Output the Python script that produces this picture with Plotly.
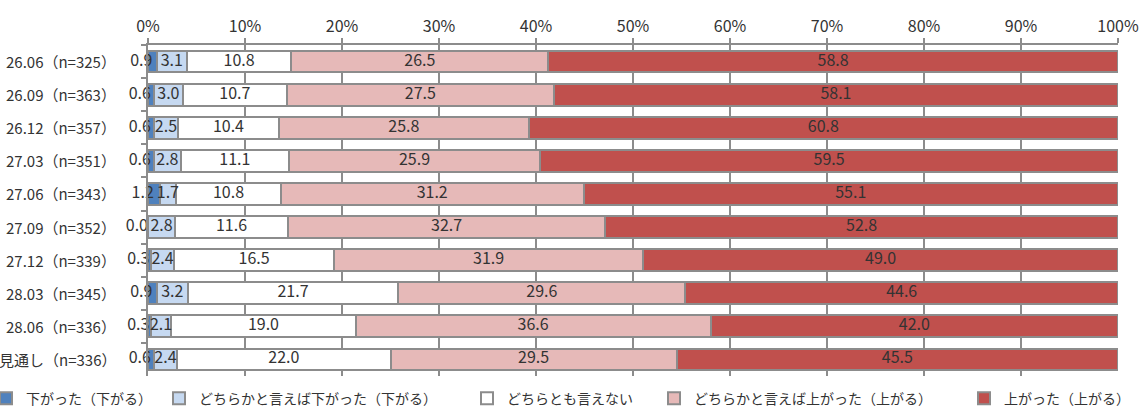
import plotly.graph_objects as go
import numpy as np

categories = ["26.06（n=325）", "26.09（n=363）", "26.12（n=357）", "27.03（n=351）",
              "27.06（n=343）", "27.09（n=352）", "27.12（n=339）", "28.03（n=345）",
              "28.06（n=336）", "見通し（n=336）"]
series_names = ["下がった（下がる）", "どちらかと言えば下がった（下がる）", "どちらとも言えない",
                "どちらかと言えば上がった（上がる）", "上がった（上がる）"]
down = [0.9, 0.6, 0.6, 0.6, 1.2, 0.0, 0.3, 0.9, 0.3, 0.6]
rather_down = [3.1, 3.0, 2.5, 2.8, 1.7, 2.8, 2.4, 3.2, 2.1, 2.4]
neutral = [10.8, 10.7, 10.4, 11.1, 10.8, 11.6, 16.5, 21.7, 19.0, 22.0]
rather_up = [26.5, 27.5, 25.8, 25.9, 31.2, 32.7, 31.9, 29.6, 36.6, 29.5]
up = [58.8, 58.1, 60.8, 59.5, 55.1, 52.8, 49.0, 44.6, 42.0, 45.5]

series = [down, rather_down, neutral, rather_up, up]
colors = ["#4F81BD", "#C6D9F1", "#FFFFFF", "#E6B9B8", "#C0504D"]
label_pos = ["middle left", "middle center", "middle center", "middle center", "middle center"]
legend_x_px = [-14, 159, 467, 654, 964]   # legend item placement (pixels from left of page)
FONT = "Noto Sans CJK JP"
TXT = "#333333"
GRAY = "#8C8C8C"
L, R, T, B = 148, 28, 45, 34
W, H = 1146, 410
PW = W - L - R

fig = go.Figure()
for i, (name, vals, col) in enumerate(zip(series_names, series, colors)):
    fig.add_trace(go.Bar(
        y=categories, x=vals, name=name, orientation="h",
        marker=dict(color=col, line=dict(color=GRAY, width=2)),
        hoverinfo="skip", legend="legend" if i == 0 else f"legend{i+1}",
    ))

# data labels at normalized segment midpoints
arr = np.array(series, dtype=float)
tot = arr.sum(axis=0)
norm = arr / tot * 100
cum = np.cumsum(norm, axis=0)
for i, vals in enumerate(series):
    mids = cum[i] - norm[i] / 2
    fig.add_trace(go.Scatter(
        x=mids, y=categories, mode="text",
        text=[f"{v:.1f}" for v in vals], textposition=label_pos[i],
        textfont=dict(family=FONT, size=16, color=TXT),
        showlegend=False, hoverinfo="skip", cliponaxis=False,
    ))

# category labels
for c in categories:
    fig.add_annotation(x=(118 - L) / PW, xref="paper", y=c, yref="y", text=c,
                       showarrow=False, xanchor="right", yanchor="middle",
                       font=dict(family=FONT, size=15, color=TXT))

legends = {}
for i, lx in enumerate(legend_x_px):
    key = "legend" if i == 0 else f"legend{i+1}"
    legends[key] = dict(orientation="h", x=(lx - L) / PW, xref="paper", y=-0.02,
                        yanchor="top", xanchor="left",
                        font=dict(size=14, family=FONT, color=TXT),
                        itemwidth=30, bgcolor="rgba(0,0,0,0)")

fig.update_layout(
    barmode="stack", barnorm="percent", bargap=0.34,
    width=W, height=H,
    margin=dict(l=L, r=R, t=T, b=B, autoexpand=False),
    paper_bgcolor="white", plot_bgcolor="white",
    font=dict(family=FONT, size=15, color=TXT),
    showlegend=True, **legends,
)
fig.update_xaxes(side="top", range=[0, 100], dtick=10, ticksuffix="%",
                 showgrid=True, gridcolor=GRAY, gridwidth=1.5,
                 showline=True, linecolor=GRAY, linewidth=2,
                 ticks="outside", ticklen=5, tickcolor=GRAY, tickwidth=2,
                 zeroline=False, automargin=False,
                 tickfont=dict(size=16, family=FONT, color=TXT))
fig.update_yaxes(autorange="reversed", showline=True, linecolor=GRAY, linewidth=2,
                 ticks="outside", tickson="boundaries", ticklen=5, tickcolor=GRAY,
                 tickwidth=2, showticklabels=False, automargin=False)

fig.write_html("out.html")
